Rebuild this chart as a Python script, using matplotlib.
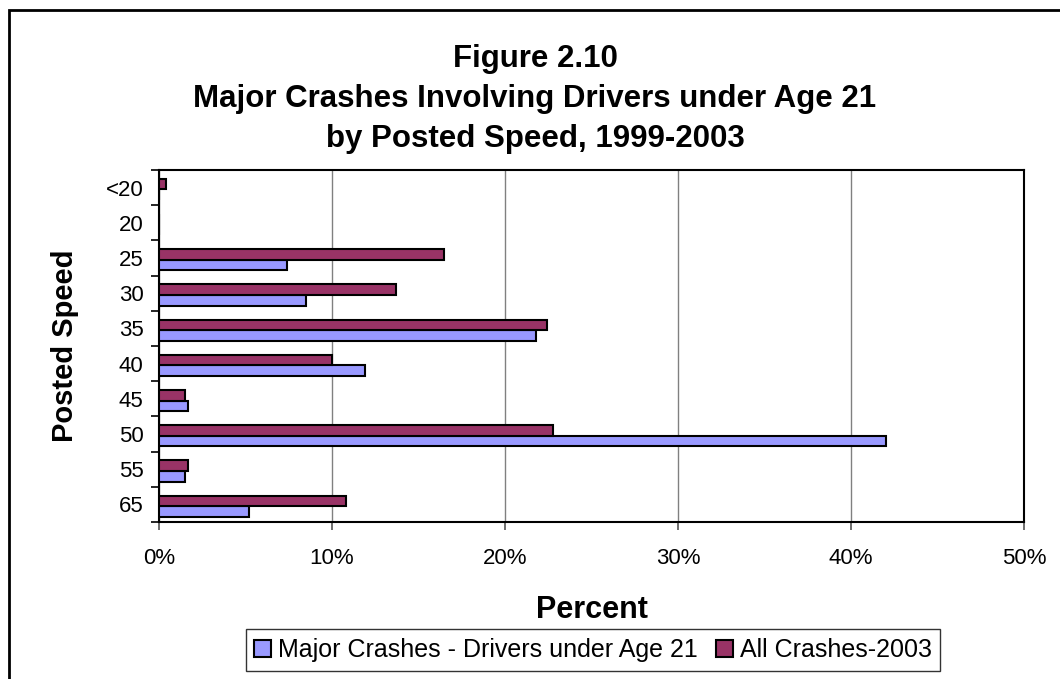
import numpy as np
import matplotlib.pyplot as plt
from matplotlib.patches import Rectangle

plt.rcParams['font.family'] = ['Liberation Sans', 'DejaVu Sans']

speeds = ['<20', '20', '25', '30', '35', '40', '45', '50', '55', '65']
under21 = [0.0, 0.0, 7.4, 8.5, 21.8, 11.9, 1.7, 42.0, 1.5, 5.2]
all_2003 = [0.4, 0.0, 16.5, 13.7, 22.4, 10.0, 1.5, 22.8, 1.7, 10.8]

blue = '#9999FF'
plum = '#993366'

W, H = 1060, 679
fig = plt.figure(figsize=(W / 100, H / 100), dpi=100)
ax = fig.add_axes([159 / W, 1 - 522 / H, (1024 - 159) / W, (522 - 170) / H])

# outer chart frame
fig.patches.append(Rectangle((9 / W, -0.05), 1.1, 1 - 10 / H + 0.05,
                             transform=fig.transFigure, fill=False,
                             edgecolor='black', linewidth=2))

y = np.arange(len(speeds))
h = 0.3
ax.barh(y + h / 2 + 0.05, under21, height=h, color=blue, edgecolor='black',
        linewidth=1.5, label='Major Crashes - Drivers under Age 21', zorder=3)
ax.barh(y - h / 2 + 0.05, all_2003, height=h, color=plum, edgecolor='black',
        linewidth=1.5, label='All Crashes-2003', zorder=3)

ax.set_xlim(0, 50)
ax.set_ylim(len(speeds) - 0.5, -0.5)
ax.set_xticks(np.arange(0, 51, 10))
ax.set_xticklabels([f'{v}%' for v in range(0, 51, 10)], fontsize=16)
ax.set_yticks(y)
ax.set_yticklabels(speeds, fontsize=16)
ax.set_yticks(np.arange(-0.5, len(speeds)), minor=True)
ax.tick_params(axis='y', which='major', length=0, pad=11)
ax.tick_params(axis='y', which='minor', length=6, width=1.2, direction='out')
ax.tick_params(axis='x', length=6, width=1.2, direction='out', pad=13, color='#555555')
ax.grid(axis='x', color='#808080', linewidth=1, zorder=0)
for s in ax.spines.values():
    s.set_linewidth(1.5)
    s.set_color('black')

fig.text(592 / W, 1 - 610 / H, 'Percent', ha='center', va='center',
         fontsize=22, fontweight='bold')
fig.text(65 / W, 1 - 346 / H, 'Posted Speed', ha='center', va='center',
         rotation=90, fontsize=21, fontweight='bold')

title_lines = ['Figure 2.10',
               'Major Crashes Involving Drivers under Age 21',
               'by Posted Speed, 1999-2003']
for line, base in zip(title_lines, [67, 107, 147]):
    fig.text(535 / W, 1 - base / H, line, ha='center', va='baseline',
             fontsize=22.5, fontweight='bold')

leg = ax.legend(loc='center', bbox_to_anchor=(593 / W, 1 - 650 / H),
                bbox_transform=fig.transFigure, ncol=2, fontsize=18,
                frameon=True, fancybox=False, handlelength=0.68,
                handleheight=0.68, handletextpad=0.28, columnspacing=0.7,
                borderpad=0.35, borderaxespad=0)
leg.get_frame().set_edgecolor('black')
leg.get_frame().set_linewidth(1)

fig.savefig('out.png', dpi=100)
